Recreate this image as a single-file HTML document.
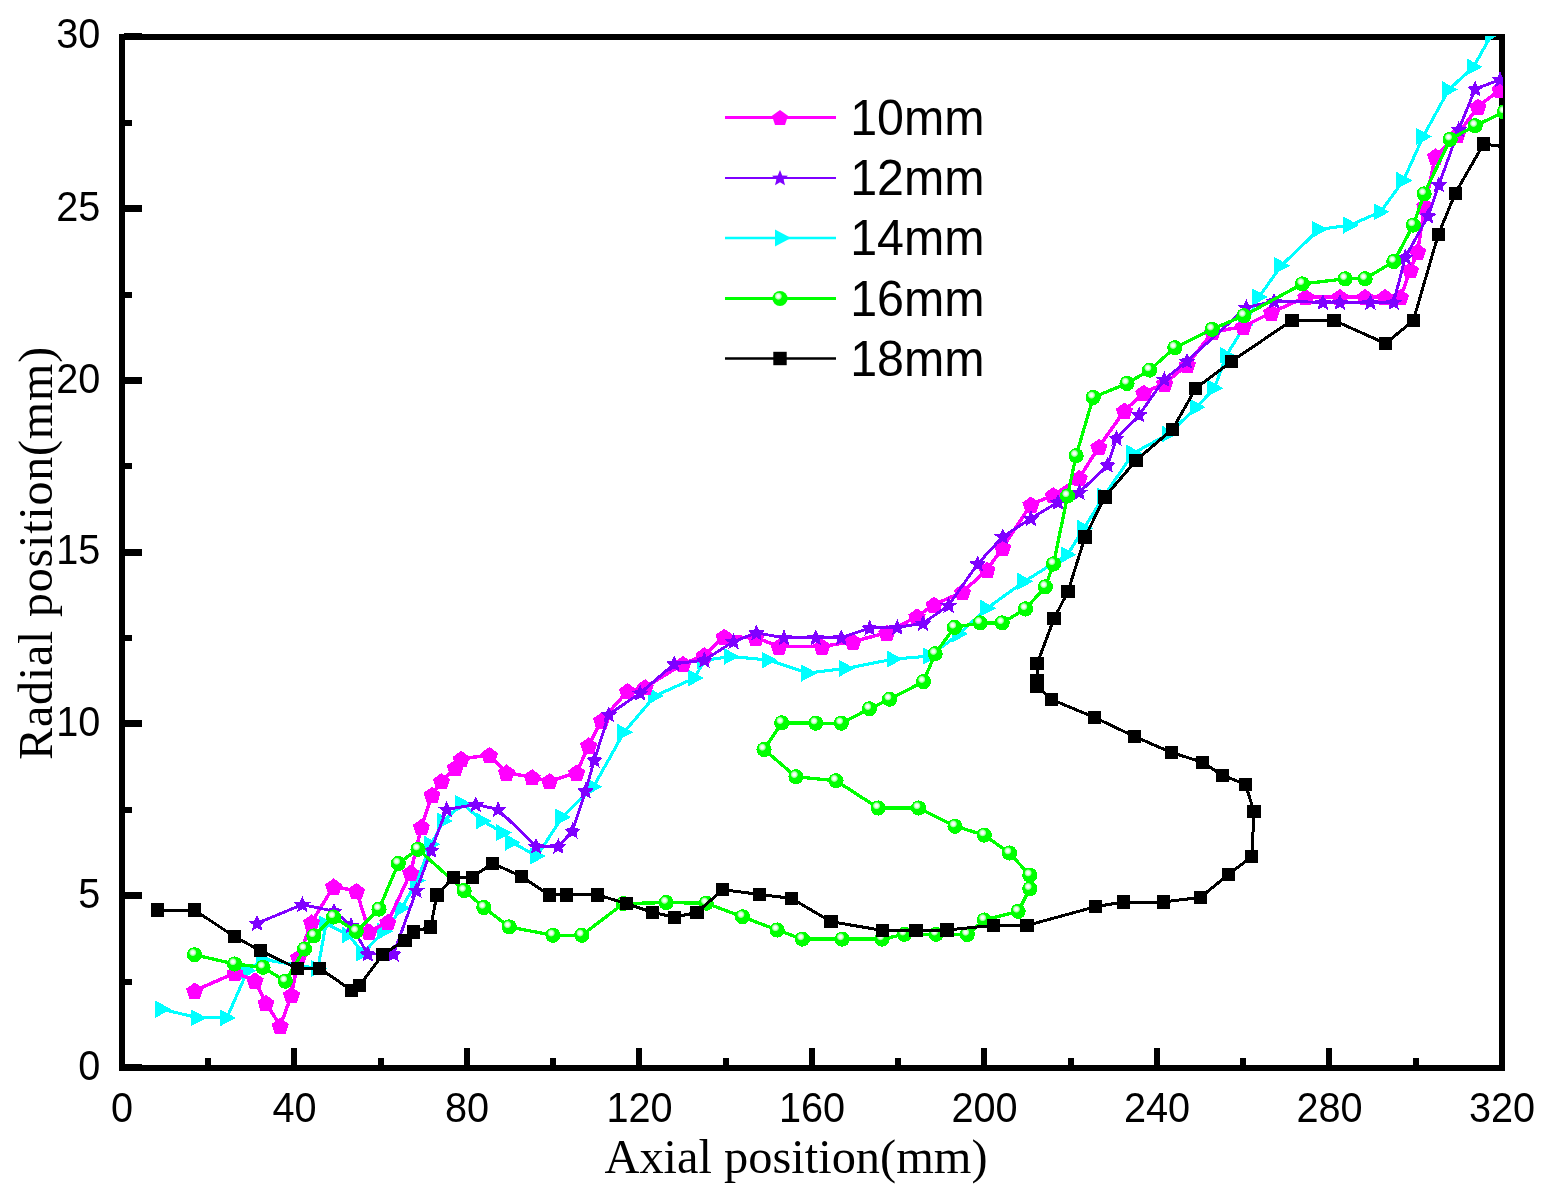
<!DOCTYPE html>
<html><head><meta charset="utf-8"><title>Radial position vs axial position</title>
<style>
html,body{margin:0;padding:0;background:#fff;}
body{width:1544px;height:1197px;overflow:hidden;}
svg{display:block;}
.tl{font-family:"Liberation Sans",Arial,sans-serif;font-size:42.2px;fill:#000;}
.lg{font-family:"Liberation Sans",Arial,sans-serif;font-size:50.6px;fill:#000;}
.ti{font-family:"Liberation Serif","Times New Roman",serif;font-size:48px;fill:#000;}
</style></head><body>
<svg width="1544" height="1197" viewBox="0 0 1544 1197">
<defs>
<clipPath id="cp"><rect x="122" y="36" width="1381" height="1033"/></clipPath>
<radialGradient id="gs" cx="0.39" cy="0.35" r="0.25" fx="0.39" fy="0.35">
<stop offset="0" stop-color="#ffffff"/><stop offset="0.4" stop-color="#f0fff0"/><stop offset="0.8" stop-color="#90ff90"/><stop offset="1" stop-color="#00ff00"/>
</radialGradient>
<polygon id="mP" points="0.0,-8.1 8.6,-1.9 5.3,8.1 -5.3,8.1 -8.6,-1.9" fill="#ff00ff"/>
<polygon id="mS" points="0.0,-8.6 2.4,-2.9 8.6,-2.3 3.9,1.7 5.3,7.7 0.0,4.5 -5.3,7.7 -3.9,1.7 -8.6,-2.3 -2.4,-2.9" fill="#7f00ff"/>
<polygon id="mT" points="-7,-8.6 -7,8.6 9,0" fill="#00ffff"/>
<polygon id="mP2" points="0.0,-7.6 8.0,-1.8 5.0,7.6 -5.0,7.6 -8.0,-1.8" fill="#ff00ff"/>
<polygon id="mS2" points="0.0,-8.0 2.2,-2.6 8.0,-2.2 3.6,1.6 5.0,7.3 0.0,4.2 -5.0,7.3 -3.6,1.6 -8.0,-2.2 -2.2,-2.6" fill="#7f00ff"/>
<circle id="mG" r="7.6" fill="url(#gs)"/>
<rect id="mB" x="-6.7" y="-6.7" width="13.4" height="13.4" fill="#000"/>
</defs>
<rect width="1544" height="1197" fill="#fff"/>

<g shape-rendering="crispEdges" fill="#000">
<rect x="119" y="34" width="6" height="1037"/>
<rect x="1499" y="34" width="6" height="1037"/>
<rect x="119" y="34" width="1386" height="6"/>
<rect x="119" y="1065" width="1386" height="6"/>
<rect x="119" y="1048" width="6" height="18"/>
<rect x="205" y="1058" width="6" height="8"/>
<rect x="291" y="1048" width="6" height="18"/>
<rect x="378" y="1058" width="6" height="8"/>
<rect x="464" y="1048" width="6" height="18"/>
<rect x="550" y="1058" width="6" height="8"/>
<rect x="636" y="1048" width="6" height="18"/>
<rect x="723" y="1058" width="6" height="8"/>
<rect x="809" y="1048" width="6" height="18"/>
<rect x="895" y="1058" width="6" height="8"/>
<rect x="981" y="1048" width="6" height="18"/>
<rect x="1068" y="1058" width="6" height="8"/>
<rect x="1154" y="1048" width="6" height="18"/>
<rect x="1240" y="1058" width="6" height="8"/>
<rect x="1326" y="1048" width="6" height="18"/>
<rect x="1413" y="1058" width="6" height="8"/>
<rect x="1499" y="1048" width="6" height="18"/>
<rect x="124" y="1064" width="18" height="7"/>
<rect x="124" y="979" width="8" height="6"/>
<rect x="124" y="892" width="18" height="7"/>
<rect x="124" y="807" width="8" height="6"/>
<rect x="124" y="720" width="18" height="7"/>
<rect x="124" y="635" width="8" height="6"/>
<rect x="124" y="549" width="18" height="7"/>
<rect x="124" y="463" width="8" height="6"/>
<rect x="124" y="377" width="18" height="7"/>
<rect x="124" y="292" width="8" height="6"/>
<rect x="124" y="205" width="18" height="7"/>
<rect x="124" y="120" width="8" height="6"/>
<rect x="124" y="33" width="18" height="7"/>
</g>
<g clip-path="url(#cp)" shape-rendering="crispEdges">
<polyline points="162.3,1009.2 197.7,1017.8 226.9,1017.8 247.5,970.8 262.6,959.3 317.8,968.6 326.0,924.0 348.5,935.0 363.0,953.0 384.2,931.3 402.0,908.0 417.0,880.5 431.1,844.3 443.7,821.0 462.2,803.5 482.6,821.0 503.0,832.7 511.7,842.4 537.0,856.0 562.2,817.1 593.5,786.7 624.0,732.3 654.8,696.0 694.8,678.0 704.0,660.5 730.6,656.4 768.5,660.1 808.3,673.1 845.8,668.4 893.8,659.1 930.0,656.0 959.1,633.9 987.1,608.2 1024.4,581.4 1067.5,554.6 1084.0,528.3 1104.0,496.0 1133.3,453.3 1168.5,434.0 1196.7,407.2 1214.4,388.1 1226.5,355.4 1245.0,325.0 1259.0,297.0 1281.2,265.7 1319.0,229.4 1350.2,225.1 1380.6,211.8 1403.4,180.5 1423.2,136.5 1448.8,89.6 1473.5,66.9 1492.0,34.0" fill="none" stroke="#00ffff" stroke-width="3.1" stroke-linejoin="round"/>
<use href="#mT" x="162.3" y="1009.2"/><use href="#mT" x="197.7" y="1017.8"/><use href="#mT" x="226.9" y="1017.8"/><use href="#mT" x="247.5" y="970.8"/><use href="#mT" x="262.6" y="959.3"/><use href="#mT" x="317.8" y="968.6"/><use href="#mT" x="326.0" y="924.0"/><use href="#mT" x="348.5" y="935.0"/><use href="#mT" x="363.0" y="953.0"/><use href="#mT" x="384.2" y="931.3"/><use href="#mT" x="402.0" y="908.0"/><use href="#mT" x="417.0" y="880.5"/><use href="#mT" x="431.1" y="844.3"/><use href="#mT" x="443.7" y="821.0"/><use href="#mT" x="462.2" y="803.5"/><use href="#mT" x="482.6" y="821.0"/><use href="#mT" x="503.0" y="832.7"/><use href="#mT" x="511.7" y="842.4"/><use href="#mT" x="537.0" y="856.0"/><use href="#mT" x="562.2" y="817.1"/><use href="#mT" x="593.5" y="786.7"/><use href="#mT" x="624.0" y="732.3"/><use href="#mT" x="654.8" y="696.0"/><use href="#mT" x="694.8" y="678.0"/><use href="#mT" x="704.0" y="660.5"/><use href="#mT" x="730.6" y="656.4"/><use href="#mT" x="768.5" y="660.1"/><use href="#mT" x="808.3" y="673.1"/><use href="#mT" x="845.8" y="668.4"/><use href="#mT" x="893.8" y="659.1"/><use href="#mT" x="930.0" y="656.0"/><use href="#mT" x="959.1" y="633.9"/><use href="#mT" x="987.1" y="608.2"/><use href="#mT" x="1024.4" y="581.4"/><use href="#mT" x="1067.5" y="554.6"/><use href="#mT" x="1084.0" y="528.3"/><use href="#mT" x="1104.0" y="496.0"/><use href="#mT" x="1133.3" y="453.3"/><use href="#mT" x="1168.5" y="434.0"/><use href="#mT" x="1196.7" y="407.2"/><use href="#mT" x="1214.4" y="388.1"/><use href="#mT" x="1226.5" y="355.4"/><use href="#mT" x="1245.0" y="325.0"/><use href="#mT" x="1259.0" y="297.0"/><use href="#mT" x="1281.2" y="265.7"/><use href="#mT" x="1319.0" y="229.4"/><use href="#mT" x="1350.2" y="225.1"/><use href="#mT" x="1380.6" y="211.8"/><use href="#mT" x="1403.4" y="180.5"/><use href="#mT" x="1423.2" y="136.5"/><use href="#mT" x="1448.8" y="89.6"/><use href="#mT" x="1473.5" y="66.9"/><use href="#mT" x="1492.0" y="34.0"/>
<polyline points="194.8,990.6 235.0,973.0 255.0,980.4 266.0,1003.0 280.3,1026.0 291.5,994.8 298.5,957.5 311.5,922.5 333.6,886.4 356.5,891.0 369.0,931.4 387.8,922.1 410.6,872.7 421.4,826.9 432.1,794.8 441.4,781.2 455.4,767.6 461.2,758.9 489.4,755.0 506.5,772.5 532.1,777.3 549.6,781.2 576.8,772.5 588.6,745.4 601.5,720.5 627.6,691.1 645.1,687.3 683.0,663.9 704.3,655.2 724.2,636.7 755.8,637.7 779.1,646.5 821.9,646.5 853.0,641.6 886.8,632.7 917.1,616.4 934.1,604.7 962.6,591.9 987.1,569.8 1002.7,547.6 1030.9,504.5 1053.2,495.2 1079.3,478.0 1098.8,447.0 1124.4,410.7 1143.8,392.7 1164.7,383.4 1187.4,364.7 1212.5,332.1 1243.5,326.5 1271.5,312.5 1305.8,297.0 1339.8,297.0 1365.1,297.0 1385.0,297.0 1400.5,297.0 1410.5,270.0 1417.6,251.5 1424.7,206.1 1435.5,156.4 1457.3,135.1 1478.1,106.6 1500.0,89.6" fill="none" stroke="#ff00ff" stroke-width="3.5" stroke-linejoin="round"/>
<use href="#mP" x="194.8" y="990.6"/><use href="#mP" x="235.0" y="973.0"/><use href="#mP" x="255.0" y="980.4"/><use href="#mP" x="266.0" y="1003.0"/><use href="#mP" x="280.3" y="1026.0"/><use href="#mP" x="291.5" y="994.8"/><use href="#mP" x="298.5" y="957.5"/><use href="#mP" x="311.5" y="922.5"/><use href="#mP" x="333.6" y="886.4"/><use href="#mP" x="356.5" y="891.0"/><use href="#mP" x="369.0" y="931.4"/><use href="#mP" x="387.8" y="922.1"/><use href="#mP" x="410.6" y="872.7"/><use href="#mP" x="421.4" y="826.9"/><use href="#mP" x="432.1" y="794.8"/><use href="#mP" x="441.4" y="781.2"/><use href="#mP" x="455.4" y="767.6"/><use href="#mP" x="461.2" y="758.9"/><use href="#mP" x="489.4" y="755.0"/><use href="#mP" x="506.5" y="772.5"/><use href="#mP" x="532.1" y="777.3"/><use href="#mP" x="549.6" y="781.2"/><use href="#mP" x="576.8" y="772.5"/><use href="#mP" x="588.6" y="745.4"/><use href="#mP" x="601.5" y="720.5"/><use href="#mP" x="627.6" y="691.1"/><use href="#mP" x="645.1" y="687.3"/><use href="#mP" x="683.0" y="663.9"/><use href="#mP" x="704.3" y="655.2"/><use href="#mP" x="724.2" y="636.7"/><use href="#mP" x="755.8" y="637.7"/><use href="#mP" x="779.1" y="646.5"/><use href="#mP" x="821.9" y="646.5"/><use href="#mP" x="853.0" y="641.6"/><use href="#mP" x="886.8" y="632.7"/><use href="#mP" x="917.1" y="616.4"/><use href="#mP" x="934.1" y="604.7"/><use href="#mP" x="962.6" y="591.9"/><use href="#mP" x="987.1" y="569.8"/><use href="#mP" x="1002.7" y="547.6"/><use href="#mP" x="1030.9" y="504.5"/><use href="#mP" x="1053.2" y="495.2"/><use href="#mP" x="1079.3" y="478.0"/><use href="#mP" x="1098.8" y="447.0"/><use href="#mP" x="1124.4" y="410.7"/><use href="#mP" x="1143.8" y="392.7"/><use href="#mP" x="1164.7" y="383.4"/><use href="#mP" x="1187.4" y="364.7"/><use href="#mP" x="1212.5" y="332.1"/><use href="#mP" x="1243.5" y="326.5"/><use href="#mP" x="1271.5" y="312.5"/><use href="#mP" x="1305.8" y="297.0"/><use href="#mP" x="1339.8" y="297.0"/><use href="#mP" x="1365.1" y="297.0"/><use href="#mP" x="1385.0" y="297.0"/><use href="#mP" x="1400.5" y="297.0"/><use href="#mP" x="1410.5" y="270.0"/><use href="#mP" x="1417.6" y="251.5"/><use href="#mP" x="1424.7" y="206.1"/><use href="#mP" x="1435.5" y="156.4"/><use href="#mP" x="1457.3" y="135.1"/><use href="#mP" x="1478.1" y="106.6"/><use href="#mP" x="1500.0" y="89.6"/>
<polyline points="257.1,923.3 302.3,904.6 334.0,911.2 351.1,925.5 367.8,954.0 393.5,954.0 416.4,890.5 431.1,850.2 446.6,809.4 475.8,804.5 498.1,809.4 536.0,846.3 558.3,846.3 572.5,831.1 585.5,790.9 594.4,760.0 608.8,714.5 640.2,693.1 674.2,663.9 704.3,660.1 733.5,641.6 756.4,632.9 784.0,637.7 815.7,637.7 841.3,637.7 869.7,628.0 897.3,627.4 923.0,623.4 948.6,605.4 977.7,563.9 1002.7,536.7 1030.9,518.5 1058.0,502.2 1079.4,492.4 1107.6,465.0 1116.5,438.2 1139.1,414.9 1164.3,379.4 1186.9,361.2 1246.3,307.5 1274.0,301.2 1322.9,302.3 1339.9,302.3 1370.4,302.3 1393.7,302.3 1405.3,257.2 1428.1,216.0 1438.9,184.8 1458.8,129.4 1475.2,89.0 1500.0,79.7" fill="none" stroke="#7f00ff" stroke-width="2.9" stroke-linejoin="round"/>
<use href="#mS" x="257.1" y="923.3"/><use href="#mS" x="302.3" y="904.6"/><use href="#mS" x="334.0" y="911.2"/><use href="#mS" x="351.1" y="925.5"/><use href="#mS" x="367.8" y="954.0"/><use href="#mS" x="393.5" y="954.0"/><use href="#mS" x="416.4" y="890.5"/><use href="#mS" x="431.1" y="850.2"/><use href="#mS" x="446.6" y="809.4"/><use href="#mS" x="475.8" y="804.5"/><use href="#mS" x="498.1" y="809.4"/><use href="#mS" x="536.0" y="846.3"/><use href="#mS" x="558.3" y="846.3"/><use href="#mS" x="572.5" y="831.1"/><use href="#mS" x="585.5" y="790.9"/><use href="#mS" x="594.4" y="760.0"/><use href="#mS" x="608.8" y="714.5"/><use href="#mS" x="640.2" y="693.1"/><use href="#mS" x="674.2" y="663.9"/><use href="#mS" x="704.3" y="660.1"/><use href="#mS" x="733.5" y="641.6"/><use href="#mS" x="756.4" y="632.9"/><use href="#mS" x="784.0" y="637.7"/><use href="#mS" x="815.7" y="637.7"/><use href="#mS" x="841.3" y="637.7"/><use href="#mS" x="869.7" y="628.0"/><use href="#mS" x="897.3" y="627.4"/><use href="#mS" x="923.0" y="623.4"/><use href="#mS" x="948.6" y="605.4"/><use href="#mS" x="977.7" y="563.9"/><use href="#mS" x="1002.7" y="536.7"/><use href="#mS" x="1030.9" y="518.5"/><use href="#mS" x="1058.0" y="502.2"/><use href="#mS" x="1079.4" y="492.4"/><use href="#mS" x="1107.6" y="465.0"/><use href="#mS" x="1116.5" y="438.2"/><use href="#mS" x="1139.1" y="414.9"/><use href="#mS" x="1164.3" y="379.4"/><use href="#mS" x="1186.9" y="361.2"/><use href="#mS" x="1246.3" y="307.5"/><use href="#mS" x="1274.0" y="301.2"/><use href="#mS" x="1322.9" y="302.3"/><use href="#mS" x="1339.9" y="302.3"/><use href="#mS" x="1370.4" y="302.3"/><use href="#mS" x="1393.7" y="302.3"/><use href="#mS" x="1405.3" y="257.2"/><use href="#mS" x="1428.1" y="216.0"/><use href="#mS" x="1438.9" y="184.8"/><use href="#mS" x="1458.8" y="129.4"/><use href="#mS" x="1475.2" y="89.0"/><use href="#mS" x="1500.0" y="79.7"/>
<polyline points="194.5,954.8 234.6,964.0 263.0,967.3 285.3,981.2 304.5,949.0 313.9,935.9 333.5,917.0 356.2,931.4 379.0,909.1 398.3,863.5 418.0,849.2 464.1,890.6 483.9,907.5 509.2,926.9 552.9,935.3 581.7,935.3 623.4,903.6 666.2,902.6 706.2,903.2 742.6,916.8 777.1,930.0 802.4,939.1 842.2,939.1 882.1,939.1 904.4,934.3 936.1,934.3 967.3,934.5 984.3,920.0 1018.1,911.4 1029.8,888.8 1029.8,875.2 1009.5,853.1 984.3,835.1 955.0,826.2 918.6,808.0 878.2,808.0 836.0,780.7 796.0,776.8 764.0,749.5 781.7,722.8 815.7,723.2 841.3,723.2 869.4,708.8 889.6,699.2 923.4,681.7 935.1,653.7 954.4,627.4 980.1,622.9 1002.2,622.9 1025.5,608.9 1045.4,586.8 1053.5,563.9 1067.5,496.0 1076.1,455.7 1093.2,397.4 1127.0,383.4 1149.6,370.1 1174.8,347.7 1212.1,329.3 1243.9,315.7 1302.4,283.9 1345.2,278.8 1365.1,278.8 1393.9,261.5 1413.3,225.1 1424.1,193.9 1450.2,139.3 1475.2,125.7 1504.3,112.0" fill="none" stroke="#00ff00" stroke-width="3.3" stroke-linejoin="round"/>
<use href="#mG" x="194.5" y="954.8"/><use href="#mG" x="234.6" y="964.0"/><use href="#mG" x="263.0" y="967.3"/><use href="#mG" x="285.3" y="981.2"/><use href="#mG" x="304.5" y="949.0"/><use href="#mG" x="313.9" y="935.9"/><use href="#mG" x="333.5" y="917.0"/><use href="#mG" x="356.2" y="931.4"/><use href="#mG" x="379.0" y="909.1"/><use href="#mG" x="398.3" y="863.5"/><use href="#mG" x="418.0" y="849.2"/><use href="#mG" x="464.1" y="890.6"/><use href="#mG" x="483.9" y="907.5"/><use href="#mG" x="509.2" y="926.9"/><use href="#mG" x="552.9" y="935.3"/><use href="#mG" x="581.7" y="935.3"/><use href="#mG" x="623.4" y="903.6"/><use href="#mG" x="666.2" y="902.6"/><use href="#mG" x="706.2" y="903.2"/><use href="#mG" x="742.6" y="916.8"/><use href="#mG" x="777.1" y="930.0"/><use href="#mG" x="802.4" y="939.1"/><use href="#mG" x="842.2" y="939.1"/><use href="#mG" x="882.1" y="939.1"/><use href="#mG" x="904.4" y="934.3"/><use href="#mG" x="936.1" y="934.3"/><use href="#mG" x="967.3" y="934.5"/><use href="#mG" x="984.3" y="920.0"/><use href="#mG" x="1018.1" y="911.4"/><use href="#mG" x="1029.8" y="888.8"/><use href="#mG" x="1029.8" y="875.2"/><use href="#mG" x="1009.5" y="853.1"/><use href="#mG" x="984.3" y="835.1"/><use href="#mG" x="955.0" y="826.2"/><use href="#mG" x="918.6" y="808.0"/><use href="#mG" x="878.2" y="808.0"/><use href="#mG" x="836.0" y="780.7"/><use href="#mG" x="796.0" y="776.8"/><use href="#mG" x="764.0" y="749.5"/><use href="#mG" x="781.7" y="722.8"/><use href="#mG" x="815.7" y="723.2"/><use href="#mG" x="841.3" y="723.2"/><use href="#mG" x="869.4" y="708.8"/><use href="#mG" x="889.6" y="699.2"/><use href="#mG" x="923.4" y="681.7"/><use href="#mG" x="935.1" y="653.7"/><use href="#mG" x="954.4" y="627.4"/><use href="#mG" x="980.1" y="622.9"/><use href="#mG" x="1002.2" y="622.9"/><use href="#mG" x="1025.5" y="608.9"/><use href="#mG" x="1045.4" y="586.8"/><use href="#mG" x="1053.5" y="563.9"/><use href="#mG" x="1067.5" y="496.0"/><use href="#mG" x="1076.1" y="455.7"/><use href="#mG" x="1093.2" y="397.4"/><use href="#mG" x="1127.0" y="383.4"/><use href="#mG" x="1149.6" y="370.1"/><use href="#mG" x="1174.8" y="347.7"/><use href="#mG" x="1212.1" y="329.3"/><use href="#mG" x="1243.9" y="315.7"/><use href="#mG" x="1302.4" y="283.9"/><use href="#mG" x="1345.2" y="278.8"/><use href="#mG" x="1365.1" y="278.8"/><use href="#mG" x="1393.9" y="261.5"/><use href="#mG" x="1413.3" y="225.1"/><use href="#mG" x="1424.1" y="193.9"/><use href="#mG" x="1450.2" y="139.3"/><use href="#mG" x="1475.2" y="125.7"/><use href="#mG" x="1504.3" y="112.0"/>
<polyline points="157.5,910.0 194.4,910.0 234.6,936.7 260.4,950.7 297.4,968.5 319.8,968.5 351.5,990.2 359.5,985.4 382.6,954.6 404.9,940.3 413.3,931.9 430.7,926.9 436.9,894.9 453.4,877.4 472.3,877.4 492.3,863.2 521.4,876.4 549.2,894.9 566.5,894.9 597.8,894.9 626.3,903.6 652.6,912.3 674.3,917.2 697.0,912.4 722.7,889.6 759.7,894.5 791.3,898.3 831.0,921.7 882.6,930.4 916.1,930.4 947.1,930.0 993.2,925.4 1027.0,925.4 1095.5,906.7 1123.5,902.0 1163.4,902.0 1200.4,897.4 1228.4,874.5 1251.7,856.6 1254.1,811.6 1245.4,784.3 1222.6,775.4 1202.4,762.2 1171.4,752.5 1134.5,736.5 1094.3,717.3 1051.7,699.6 1037.2,686.3 1037.2,681.0 1037.2,663.5 1054.2,618.3 1068.0,591.4 1085.0,537.1 1104.8,497.0 1136.1,460.3 1172.4,429.3 1195.7,388.5 1231.7,361.2 1291.8,320.5 1334.2,320.5 1385.5,343.5 1413.3,320.6 1438.3,234.5 1455.3,193.3 1483.5,144.1 1530.0,150.0" fill="none" stroke="#000" stroke-width="3.0" stroke-linejoin="round"/>
<use href="#mB" x="157.5" y="910.0"/><use href="#mB" x="194.4" y="910.0"/><use href="#mB" x="234.6" y="936.7"/><use href="#mB" x="260.4" y="950.7"/><use href="#mB" x="297.4" y="968.5"/><use href="#mB" x="319.8" y="968.5"/><use href="#mB" x="351.5" y="990.2"/><use href="#mB" x="359.5" y="985.4"/><use href="#mB" x="382.6" y="954.6"/><use href="#mB" x="404.9" y="940.3"/><use href="#mB" x="413.3" y="931.9"/><use href="#mB" x="430.7" y="926.9"/><use href="#mB" x="436.9" y="894.9"/><use href="#mB" x="453.4" y="877.4"/><use href="#mB" x="472.3" y="877.4"/><use href="#mB" x="492.3" y="863.2"/><use href="#mB" x="521.4" y="876.4"/><use href="#mB" x="549.2" y="894.9"/><use href="#mB" x="566.5" y="894.9"/><use href="#mB" x="597.8" y="894.9"/><use href="#mB" x="626.3" y="903.6"/><use href="#mB" x="652.6" y="912.3"/><use href="#mB" x="674.3" y="917.2"/><use href="#mB" x="697.0" y="912.4"/><use href="#mB" x="722.7" y="889.6"/><use href="#mB" x="759.7" y="894.5"/><use href="#mB" x="791.3" y="898.3"/><use href="#mB" x="831.0" y="921.7"/><use href="#mB" x="882.6" y="930.4"/><use href="#mB" x="916.1" y="930.4"/><use href="#mB" x="947.1" y="930.0"/><use href="#mB" x="993.2" y="925.4"/><use href="#mB" x="1027.0" y="925.4"/><use href="#mB" x="1095.5" y="906.7"/><use href="#mB" x="1123.5" y="902.0"/><use href="#mB" x="1163.4" y="902.0"/><use href="#mB" x="1200.4" y="897.4"/><use href="#mB" x="1228.4" y="874.5"/><use href="#mB" x="1251.7" y="856.6"/><use href="#mB" x="1254.1" y="811.6"/><use href="#mB" x="1245.4" y="784.3"/><use href="#mB" x="1222.6" y="775.4"/><use href="#mB" x="1202.4" y="762.2"/><use href="#mB" x="1171.4" y="752.5"/><use href="#mB" x="1134.5" y="736.5"/><use href="#mB" x="1094.3" y="717.3"/><use href="#mB" x="1051.7" y="699.6"/><use href="#mB" x="1037.2" y="686.3"/><use href="#mB" x="1037.2" y="681.0"/><use href="#mB" x="1037.2" y="663.5"/><use href="#mB" x="1054.2" y="618.3"/><use href="#mB" x="1068.0" y="591.4"/><use href="#mB" x="1085.0" y="537.1"/><use href="#mB" x="1104.8" y="497.0"/><use href="#mB" x="1136.1" y="460.3"/><use href="#mB" x="1172.4" y="429.3"/><use href="#mB" x="1195.7" y="388.5"/><use href="#mB" x="1231.7" y="361.2"/><use href="#mB" x="1291.8" y="320.5"/><use href="#mB" x="1334.2" y="320.5"/><use href="#mB" x="1385.5" y="343.5"/><use href="#mB" x="1413.3" y="320.6"/><use href="#mB" x="1438.3" y="234.5"/><use href="#mB" x="1455.3" y="193.3"/><use href="#mB" x="1483.5" y="144.1"/><use href="#mB" x="1530.0" y="150.0"/>
</g>
<text class="tl" transform="translate(122.0,1121.5) scale(0.94,1)" text-anchor="middle">0</text>
<text class="tl" transform="translate(294.5,1121.5) scale(0.94,1)" text-anchor="middle">40</text>
<text class="tl" transform="translate(467.0,1121.5) scale(0.94,1)" text-anchor="middle">80</text>
<text class="tl" transform="translate(639.5,1121.5) scale(0.94,1)" text-anchor="middle">120</text>
<text class="tl" transform="translate(812.0,1121.5) scale(0.94,1)" text-anchor="middle">160</text>
<text class="tl" transform="translate(984.5,1121.5) scale(0.94,1)" text-anchor="middle">200</text>
<text class="tl" transform="translate(1157.0,1121.5) scale(0.94,1)" text-anchor="middle">240</text>
<text class="tl" transform="translate(1329.5,1121.5) scale(0.94,1)" text-anchor="middle">280</text>
<text class="tl" transform="translate(1502.0,1121.5) scale(0.94,1)" text-anchor="middle">320</text>
<text class="tl" transform="translate(100.3,1079.9) scale(0.94,1)" text-anchor="end">0</text>
<text class="tl" transform="translate(100.3,908.1) scale(0.94,1)" text-anchor="end">5</text>
<text class="tl" transform="translate(100.3,736.2) scale(0.94,1)" text-anchor="end">10</text>
<text class="tl" transform="translate(100.3,564.4) scale(0.94,1)" text-anchor="end">15</text>
<text class="tl" transform="translate(100.3,392.6) scale(0.94,1)" text-anchor="end">20</text>
<text class="tl" transform="translate(100.3,220.7) scale(0.94,1)" text-anchor="end">25</text>
<text class="tl" transform="translate(100.3,48.0) scale(0.94,1)" text-anchor="end">30</text>
<text class="ti" style="font-size:48.4px" x="796" y="1173.3" text-anchor="middle">Axial position(mm)</text>
<text class="ti" style="font-size:48px;letter-spacing:0.8px" transform="translate(51.8,553) rotate(-90)" text-anchor="middle">Radial position(mm)</text>
<line x1="725" x2="836" y1="117.5" y2="117.5" stroke="#ff00ff" stroke-width="3"/>
<use href="#mP2" x="780" y="117.5"/>
<text class="lg" transform="translate(850.2,134.8) scale(0.956,1)">10mm</text>
<line x1="725" x2="836" y1="178" y2="178" stroke="#7f00ff" stroke-width="2.2"/>
<use href="#mS2" x="780" y="178"/>
<text class="lg" transform="translate(850.2,195.3) scale(0.956,1)">12mm</text>
<line x1="725" x2="836" y1="238" y2="238" stroke="#00ffff" stroke-width="2.4"/>
<use href="#mT" x="782" y="238"/>
<text class="lg" transform="translate(850.2,255.3) scale(0.956,1)">14mm</text>
<line x1="725" x2="836" y1="298.5" y2="298.5" stroke="#00ff00" stroke-width="2.8"/>
<use href="#mG" x="780" y="298.5"/>
<text class="lg" transform="translate(850.2,315.8) scale(0.956,1)">16mm</text>
<line x1="725" x2="836" y1="358.5" y2="358.5" stroke="#000" stroke-width="2.4"/>
<use href="#mB" x="780" y="358.5"/>
<text class="lg" transform="translate(850.2,375.8) scale(0.956,1)">18mm</text>
</svg></body></html>
